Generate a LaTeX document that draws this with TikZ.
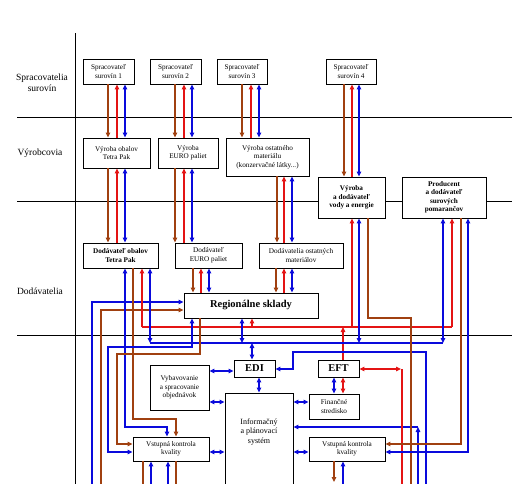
\documentclass[tikz,border=0pt]{standalone}
\usepackage{fontspec}
\setmainfont{Liberation Serif}
\usetikzlibrary{arrows.meta}
\definecolor{brn}{RGB}{160,64,16}
\definecolor{rdc}{RGB}{228,20,20}
\definecolor{blu}{RGB}{10,10,220}
\begin{document}
\begin{tikzpicture}[x=1pt,y=-1pt,
  box/.style={draw=black,fill=white,line width=0.9pt,inner sep=0pt,align=center,font=\fontsize{7.2}{8.5}\selectfont},
  bbox/.style={box,font=\fontsize{7.2}{8.5}\selectfont\bfseries},
  big/.style={box,font=\fontsize{10.5}{12}\selectfont\bfseries},
  side/.style={align=center,font=\fontsize{9.5}{11}\selectfont},
  sect/.style={draw=black,line width=0.9pt},
  ln/.style={line width=1.2pt},
  br/.style={ln,draw=brn},
  rd/.style={ln,draw=rdc},
  bl/.style={ln,draw=blu},
  >={Triangle[length=5pt,width=4.5pt]}
]
\useasboundingbox (0,0) rectangle (512,483);
\clip (0,0) rectangle (512,483);
% section lines
\draw[sect] (75,33) -- (75,490);
\draw[sect] (17,117) -- (512,117);
\draw[sect] (17,201) -- (512,201);
\draw[sect] (17,335) -- (512,335);
% side labels
\node[side] (L1) at (42,83) {Spracovatelia\\surovín};
\node[side] (L2) at (40,153) {Výrobcovia};
\node[side] (L3) at (40,291) {Dodávatelia};
% boxes
\node[box,minimum width=51pt,minimum height=25pt] (S1) at (108.5,71.5) {Spracovateľ\\surovín 1};
\node[box,minimum width=51pt,minimum height=25pt] (S2) at (175.5,71.5) {Spracovateľ\\surovín 2};
\node[box,minimum width=50pt,minimum height=25pt] (S3) at (242,71.5) {Spracovateľ\\surovín 3};
\node[box,minimum width=50pt,minimum height=25pt] (S4) at (351,71.5) {Spracovateľ\\surovín 4};
\node[box,minimum width=67pt,minimum height=30pt] (V1) at (116.5,153) {Výroba obalov\\Tetra Pak};
\node[box,minimum width=60pt,minimum height=30pt] (V2) at (188,153) {Výroba\\EURO paliet};
\node[box,minimum width=83pt,minimum height=38pt] (V3) at (267.5,157) {Výroba ostatného\\materiálu\\(konzervačné látky...)};
\node[bbox,minimum width=67pt,minimum height=41pt] (V4) at (351.5,197.5) {Výroba\\a dodávateľ\\vody a energie};
\node[bbox,minimum width=84pt,minimum height=41pt] (V5) at (444,197.5) {Producent\\a dodávateľ\\surových\\pomarančov};
\node[bbox,minimum width=75pt,minimum height=25pt] (D1) at (120.5,255.5) {Dodávateľ obalov\\Tetra Pak};
\node[box,minimum width=67pt,minimum height=25pt] (D2) at (208.5,255.5) {Dodávateľ\\EURO paliet};
\node[box,minimum width=84pt,minimum height=25pt] (D3) at (301,255.5) {Dodávatelia ostatných\\materiálov};
\node[big,minimum width=134pt,minimum height=25pt] (R) at (251,305.5) {Regionálne sklady};
\node[big,minimum width=41pt,minimum height=17pt] (EDI) at (254.5,368.5) {EDI};
\node[big,minimum width=41pt,minimum height=17pt] (EFT) at (338.5,368.5) {EFT};
\node[box,minimum width=59pt,minimum height=45pt] (Vyb) at (179.5,387.5) {Vybavovanie\\a spracovanie\\objednávok};
\node[box,minimum width=68pt,minimum height=127pt] (IPS) at (259,456.5) {};
\node[align=center,font=\fontsize{8}{9.5}\selectfont] (IPSt) at (259,432) {Informačný\\a plánovací\\systém};
\node[box,minimum width=50pt,minimum height=25pt] (Fin) at (334,406.5) {Finančné\\stredisko};
\node[box,minimum width=76pt,minimum height=24pt] (VK1) at (171,449) {Vstupná kontrola\\kvality};
\node[box,minimum width=76pt,minimum height=24pt] (VK2) at (347,449) {Vstupná kontrola\\kvality};
% S -> V
\draw[br,->] (S1.south -| 108,0) -- (V1.north -| 108,0);
\draw[rd,<-] (S1.south -| 117,0) -- (V1.north -| 117,0);
\draw[bl,<->] (S1.south -| 125,0) -- (V1.north -| 125,0);
\draw[br,->] (S2.south -| 175,0) -- (V2.north -| 175,0);
\draw[rd,<-] (S2.south -| 184,0) -- (V2.north -| 184,0);
\draw[bl,<->] (S2.south -| 192,0) -- (V2.north -| 192,0);
\draw[br,->] (S3.south -| 242,0) -- (V3.north -| 242,0);
\draw[rd,<-] (S3.south -| 251,0) -- (V3.north -| 251,0);
\draw[bl,<->] (S3.south -| 259,0) -- (V3.north -| 259,0);
\draw[br,->] (S4.south -| 344,0) -- (V4.north -| 344,0);
\draw[rd,<-] (S4.south -| 352,0) -- (V4.north -| 352,0);
\draw[bl,<->] (S4.south -| 359,0) -- (V4.north -| 359,0);
% V -> D
\draw[br,->] (V1.south -| 108,0) -- (D1.north -| 108,0);
\draw[rd,<-] (V1.south -| 117,0) -- (D1.north -| 117,0);
\draw[bl,<->] (V1.south -| 125,0) -- (D1.north -| 125,0);
\draw[br,->] (V2.south -| 175,0) -- (D2.north -| 175,0);
\draw[rd,<-] (V2.south -| 184,0) -- (D2.north -| 184,0);
\draw[bl,<->] (V2.south -| 192,0) -- (D2.north -| 192,0);
\draw[br,->] (V3.south -| 277,0) -- (D3.north -| 277,0);
\draw[rd,<-] (V3.south -| 284,0) -- (D3.north -| 284,0);
\draw[bl,<->] (V3.south -| 292,0) -- (D3.north -| 292,0);
% D -> R
\draw[br,->] (D2.south -| 193,0) -- (R.north -| 193,0);
\draw[rd,<-] (D2.south -| 201,0) -- (R.north -| 201,0);
\draw[bl,<->] (D2.south -| 209,0) -- (R.north -| 209,0);
\draw[br,->] (D3.south -| 276,0) -- (R.north -| 276,0);
\draw[rd,<-] (D3.south -| 284,0) -- (R.north -| 284,0);
\draw[bl,<->] (D3.south -| 292,0) -- (R.north -| 292,0);
% into R from left
\draw[bl,->] (92,490) -- (92,302) -- (R.west |- 0,302);
\draw[br,->] (101,490) -- (101,310) -- (R.west |- 0,310);
% D1 -> VK1
\draw[bl,<->] (D1.south -| 125,0) -- (125,427) -- (167,427) -- (VK1.north -| 167,0);
\draw[br,->] (D1.south -| 133,0) -- (133,419) -- (176,419) -- (VK1.north -| 176,0);
% red bus
\draw[rd] (142,327) -- (452,327);
\draw[rd,->] (142,327) -- (D1.south -| 142,0);
\draw[rd,->] (252,327) -- (R.south -| 252,0);
\draw[rd,->] (352,327) -- (V4.south -| 352,0);
\draw[rd,->] (452,327) -- (V5.south -| 452,0);
\draw[rd,->] (EFT.north -| 343,0) -- (343,327);
% blue bus
\draw[bl] (150,343) -- (443,343);
\draw[bl,<->] (D1.south -| 150,0) -- (150,343);
\draw[bl,<->] (R.south -| 242,0) -- (242,343);
\draw[bl,<->] (252,343) -- (EDI.north -| 252,0);
\draw[bl,<->] (V4.south -| 359,0) -- (359,343);
\draw[bl,<->] (V5.south -| 443,0) -- (443,343);
% R -> VK1
\draw[bl,<->] (R.south -| 192,0) -- (192,347) -- (108,347) -- (108,452) -- (VK1.west |- 0,452);
\draw[br,->] (R.south -| 200,0) -- (200,354) -- (117,354) -- (117,444) -- (VK1.west |- 0,444);
% EDI links
\draw[bl,<->] (EDI.south -| 259,0) -- (IPS.north -| 259,0);
\draw[bl,<->] (Vyb.east |- 0,371) -- (EDI.west |- 0,371);
\draw[bl,->] (426,490) -- (426,352) -- (293,352) -- (293,369) -- (EDI.east |- 0,369);
% IPS links
\draw[bl,<->] (Vyb.east |- 0,402) -- (IPS.west |- 0,402);
\draw[bl,<->] (VK1.east |- 0,452) -- (IPS.west |- 0,452);
\draw[bl,<->] (IPS.east |- 0,402) -- (Fin.west |- 0,402);
\draw[bl,<->] (IPS.east |- 0,452) -- (VK2.west |- 0,452);
\draw[bl,->] (418,490) -- (418,427);
\draw[bl,->] (418,427) -- (IPS.east |- 0,427);
% EFT links
\draw[bl,<->] (EFT.south -| 334,0) -- (Fin.north -| 334,0);
\draw[rd,<->] (EFT.south -| 343,0) -- (Fin.north -| 343,0);
\draw[rd,<->] (EFT.east |- 0,369) -- (401,369);
\draw[rd] (402,369) -- (402,490);
% V4, V5 lines
\draw[br] (V4.south -| 368,0) -- (368,318) -- (411,318) -- (411,490);
\draw[br,->] (V5.south -| 461,0) -- (461,444) -- (VK2.east |- 0,444);
\draw[bl,<->] (V5.south -| 468,0) -- (468,452) -- (VK2.east |- 0,452);
% bottoms
\draw[br,->] (VK2.south -| 334,0) -- (334,482);
\draw[bl,<-] (VK2.south -| 343,0) -- (343,490);
\draw[br] (VK1.south -| 143,0) -- (143,490);
\draw[bl,<-] (VK1.south -| 151,0) -- (151,490);
\draw[bl,<-] (VK1.south -| 168,0) -- (168,490);
\draw[br] (VK1.south -| 176,0) -- (176,490);
\end{tikzpicture}
\end{document}
